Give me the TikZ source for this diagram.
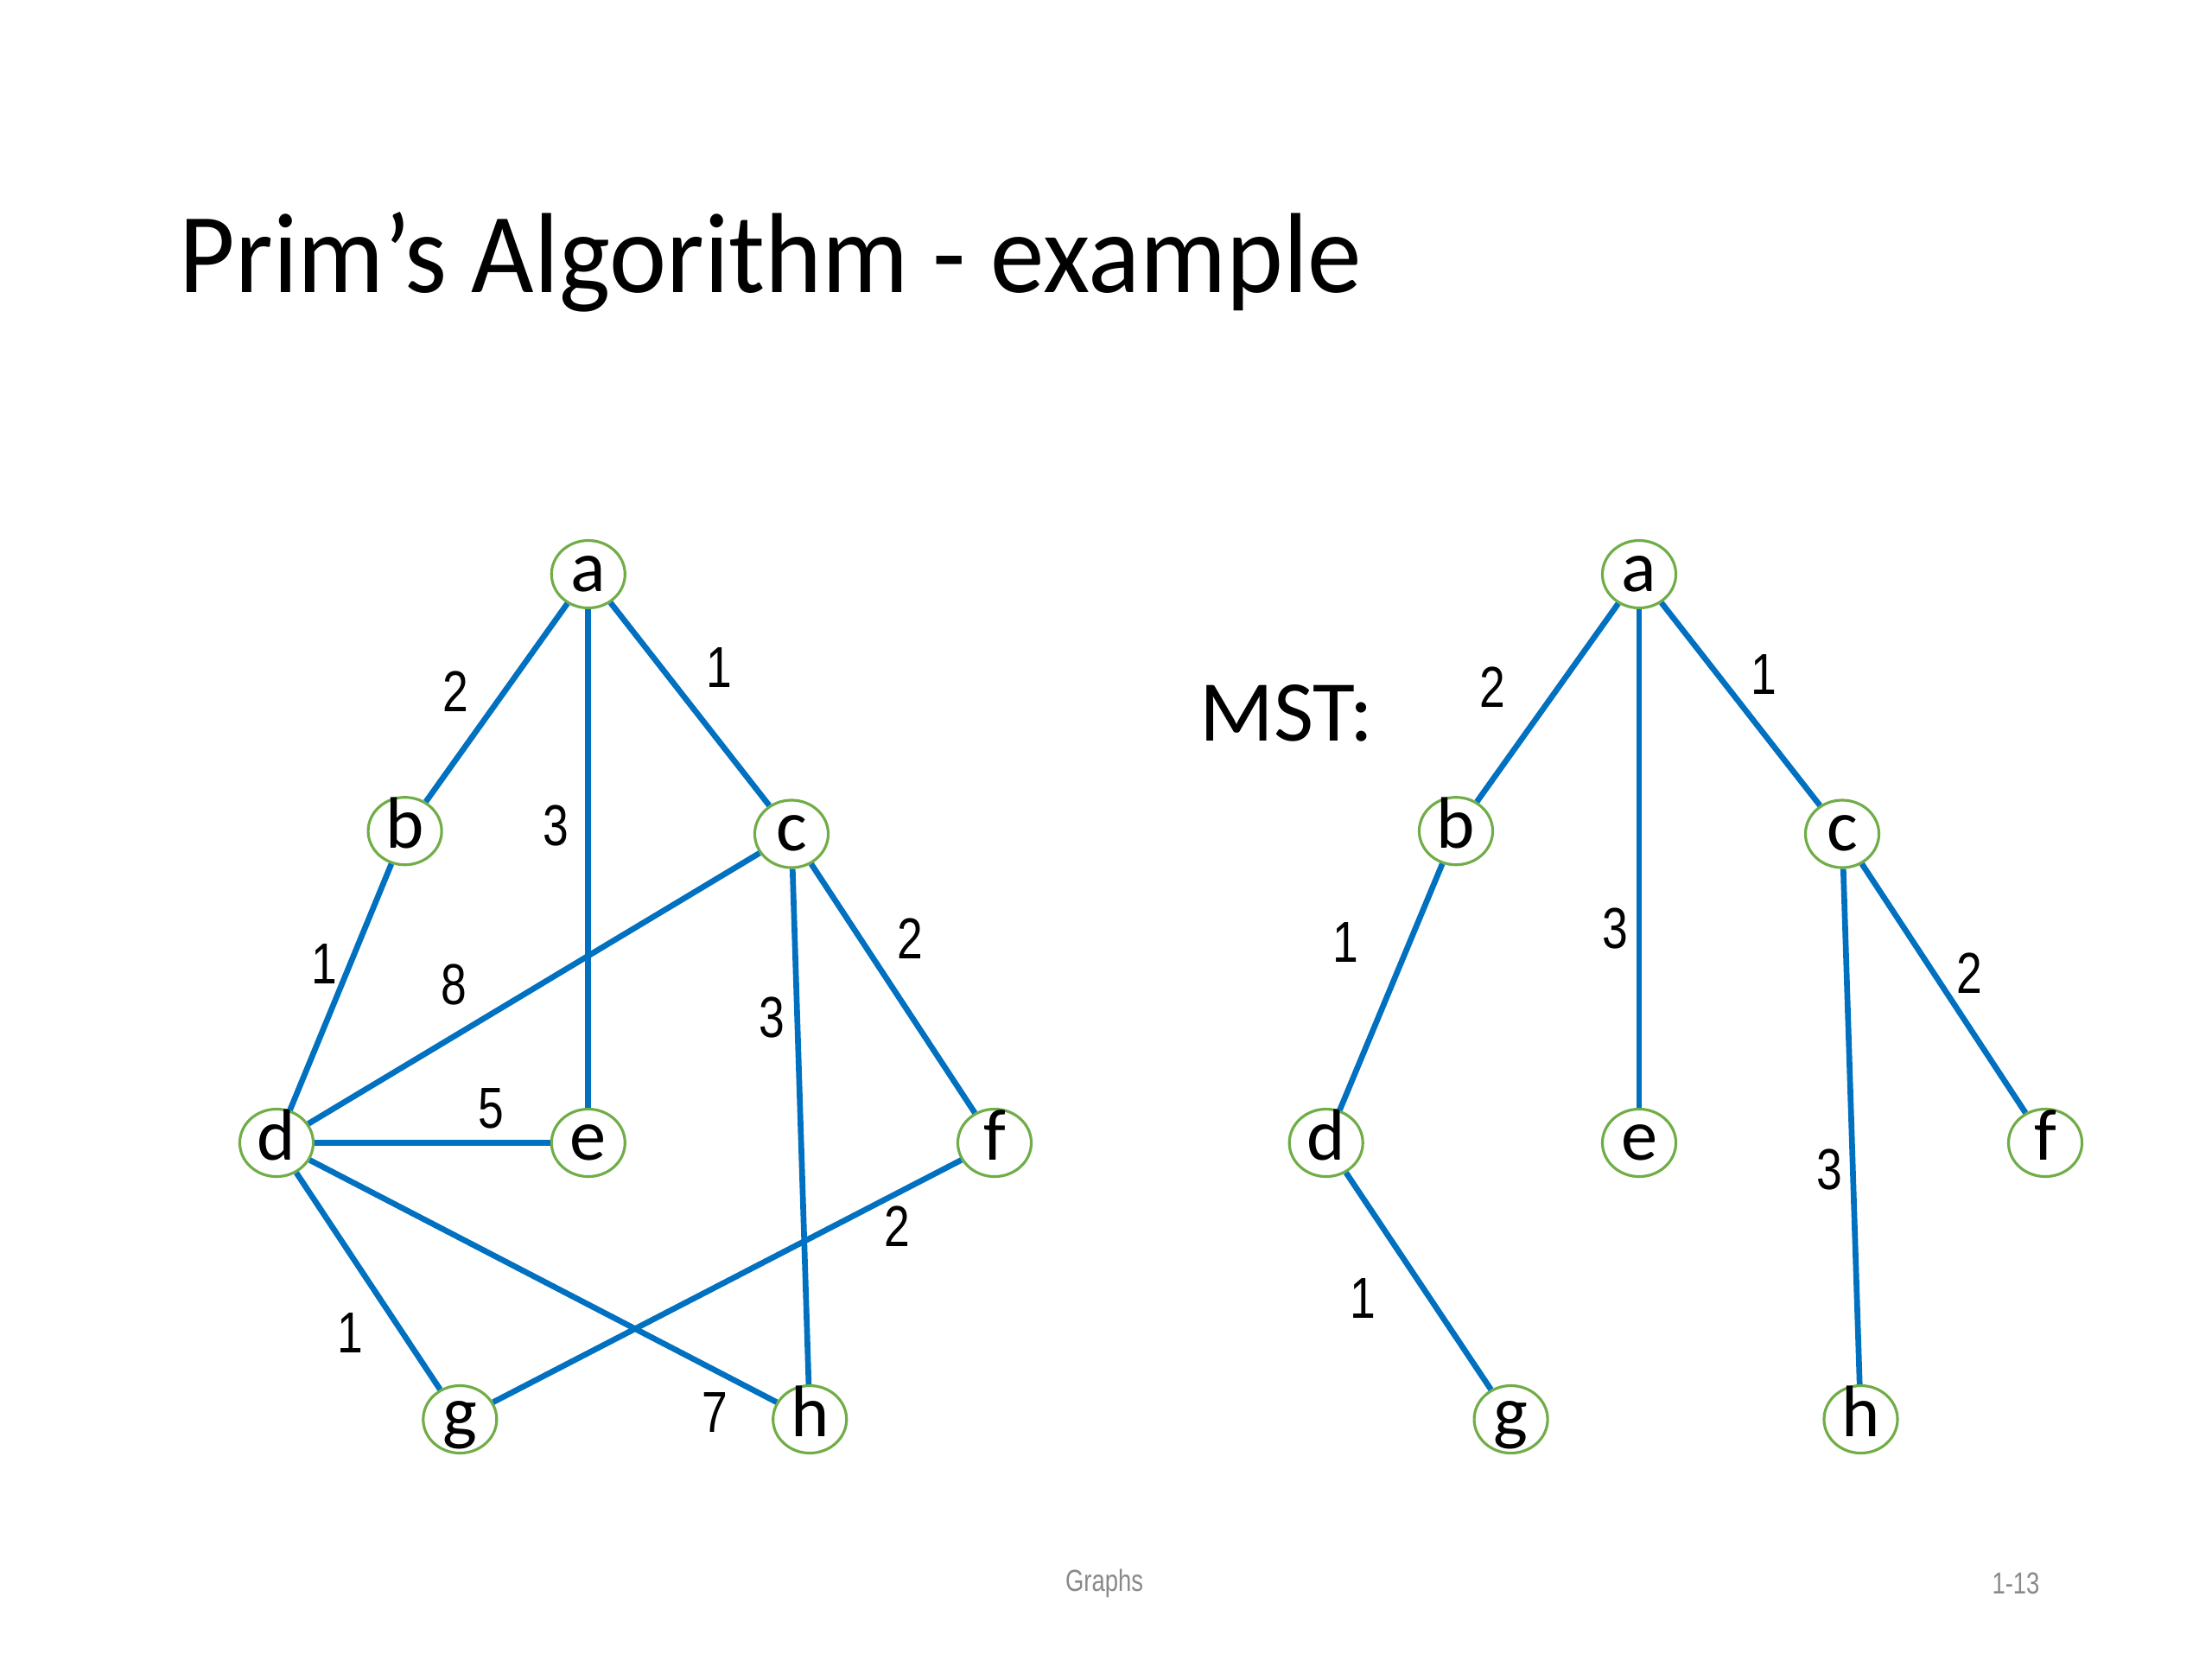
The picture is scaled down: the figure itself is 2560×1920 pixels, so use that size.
\documentclass[tikz,border=0pt]{standalone}
\usepackage{fontspec}
\usepackage{graphicx}
\usetikzlibrary{shapes.geometric}
\setmainfont{Carlito}
\newfontfamily\carlito{Carlito}
\newfontfamily\arialf{Liberation Sans}
\definecolor{edgeblue}{HTML}{0070C0}
\definecolor{nodegreen}{HTML}{70AD47}
\definecolor{footgray}{HTML}{898989}
\newcommand{\wlab}[1]{\scalebox{0.8}[1]{#1}}
\begin{document}
\begin{tikzpicture}[x=0.01cm,y=-0.01cm,
  vtx/.style={ellipse, draw=nodegreen, line width=0.9pt, fill=white,
    minimum width=0.85cm, minimum height=0.78cm, inner sep=0pt,
    font=\carlito\fontsize{24}{24}\selectfont, text height=11.2pt, text depth=0pt},
  wt/.style={inner sep=0pt, font=\arialf\fontsize{19}{19}\selectfont},
  link/.style={draw=edgeblue, line width=1.9pt},
  foot/.style={inner sep=0pt, text=footgray, font=\arialf\fontsize{10}{10}\selectfont}]
\useasboundingbox[fill=white] (0,0) rectangle (2560,1920);

\node[inner sep=0pt, anchor=base west, font=\carlito\fontsize{37.5}{40}\selectfont] (title) at (207,338) {\scalebox{0.95}[1]{Prim’s Algorithm - example}};
\node[inner sep=0pt, anchor=base west, font=\carlito\fontsize{28.5}{30}\selectfont] (mst) at (1388,857) {MST:};

% left graph
\node[vtx] (a) at (680.8,664.5) {a};
\node[vtx] (b) at (468.6,961.7) {b};
\node[vtx] (c) at (916,965) {c};
\node[vtx] (d) at (320,1322.5) {d};
\node[vtx] (e) at (680.8,1322.5) {e};
\node[vtx] (f) at (1151,1322.5) {f};
\node[vtx] (g) at (532.3,1642.5) {g};
\node[vtx] (h) at (937.2,1642.5) {h};

\draw[link] (a) -- (b);
\draw[link] (a) -- (c);
\draw[link] (a) -- (e);
\draw[link] (b) -- (d);
\draw[link] (c) -- (d);
\draw[link] (c) -- (f);
\draw[link] (c) -- (h);
\draw[link] (d) -- (e);
\draw[link] (d) -- (g);
\draw[link] (d) -- (h);
\draw[link] (f) -- (g);

\node[wt] (lab) at (527.4,800) {\wlab{2}};
\node[wt] (lac) at (832.7,772.3) {\wlab{1}};
\node[wt] (lae) at (643.3,955.1) {\wlab{3}};
\node[wt] (lbd) at (375.5,1115.1) {\wlab{1}};
\node[wt] (lcd) at (525.7,1139.6) {\wlab{8}};
\node[wt] (lcf) at (1053.1,1085.7) {\wlab{2}};
\node[wt] (lch) at (893.1,1177.2) {\wlab{3}};
\node[wt] (lde) at (568.2,1283.3) {\wlab{5}};
\node[wt] (lfg) at (1038.4,1418.8) {\wlab{2}};
\node[wt] (ldg) at (404.9,1542.9) {\wlab{1}};
\node[wt] (ldh) at (827.8,1634.3) {\wlab{7}};

% right graph (MST)
\node[vtx] (A) at (1897,664.5) {a};
\node[vtx] (B) at (1685,961.7) {b};
\node[vtx] (C) at (2132,965) {c};
\node[vtx] (D) at (1534.7,1322.5) {d};
\node[vtx] (E) at (1897,1322.5) {e};
\node[vtx] (F) at (2367,1322.5) {f};
\node[vtx] (G) at (1748.6,1642.5) {g};
\node[vtx] (H) at (2153.5,1642.5) {h};

\draw[link] (A) -- (B);
\draw[link] (A) -- (C);
\draw[link] (A) -- (E);
\draw[link] (B) -- (D);
\draw[link] (C) -- (F);
\draw[link] (C) -- (H);
\draw[link] (D) -- (G);

\node[wt] (Lab) at (1727.4,795.1) {\wlab{2}};
\node[wt] (Lac) at (2040.9,780.4) {\wlab{1}};
\node[wt] (Lae) at (1869.4,1074.3) {\wlab{3}};
\node[wt] (Lbd) at (1557.6,1090.6) {\wlab{1}};
\node[wt] (Lcf) at (2279.2,1126.6) {\wlab{2}};
\node[wt] (Lch) at (2117.6,1353.5) {\wlab{3}};
\node[wt] (Ldg) at (1577.2,1502.1) {\wlab{1}};

% footer
\node[foot] (footl) at (1278,1832) {\scalebox{0.78}[1]{Graphs}};
\node[foot] (footr) at (2333,1832) {\scalebox{0.78}[1]{1-13}};
\end{tikzpicture}
\end{document}
